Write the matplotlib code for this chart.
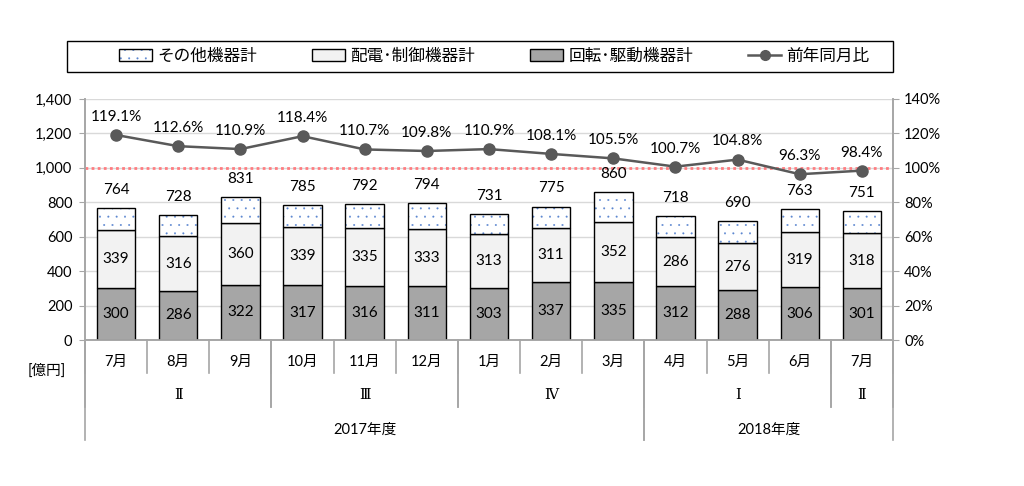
import matplotlib
matplotlib.use("Agg")
import matplotlib.pyplot as plt
import matplotlib.transforms as mtransforms
from matplotlib.patches import Patch, Rectangle
from matplotlib.lines import Line2D
from matplotlib.legend_handler import HandlerTuple
from matplotlib.ticker import FuncFormatter, MultipleLocator

plt.rcParams['font.family'] = ['Lato', 'Noto Sans CJK JP', 'DejaVu Sans']
plt.rcParams['hatch.linewidth'] = 0.2

months = ['7月', '8月', '9月', '10月', '11月', '12月', '1月', '2月', '3月', '4月', '5月', '6月', '7月']
rotating = [300, 286, 322, 317, 316, 311, 303, 337, 335, 312, 288, 306, 301]
distribution = [339, 316, 360, 339, 335, 333, 313, 311, 352, 286, 276, 319, 318]
totals = [764, 728, 831, 785, 792, 794, 731, 775, 860, 718, 690, 763, 751]
yoy = [119.1, 112.6, 110.9, 118.4, 110.7, 109.8, 110.9, 108.1, 105.5, 100.7, 104.8, 96.3, 98.4]
quarters = [('Ⅱ', 0, 3), ('Ⅲ', 3, 6), ('Ⅳ', 6, 9), ('Ⅰ', 9, 12), ('Ⅱ', 12, 13)]
years = [('2017年度', 0, 9), ('2018年度', 9, 13)]

other = [t - r - d for t, r, d in zip(totals, rotating, distribution)]

C_ROT = '#A6A6A6'
C_DIST = '#F2F2F2'
C_DOT = '#5B86D0'
C_LINE = '#595959'
C_GRID = '#D9D9D9'
C_AX = '#A6A6A6'
FS = 11

fig = plt.figure(figsize=(10.24, 4.86), dpi=100)
ax = fig.add_axes([85/1024, 1-340/486, 808/1024, 241/486])
ax2 = ax.twinx()

x = list(range(len(months)))
w = 0.62
bot2 = [r + d for r, d in zip(rotating, distribution)]

ax.bar(x, rotating, w, color=C_ROT, edgecolor='black', linewidth=1, zorder=3)
ax.bar(x, distribution, w, bottom=rotating, color=C_DIST, edgecolor='black', linewidth=1, zorder=3)
ax.bar(x, other, w, bottom=bot2, color='white', edgecolor=C_DOT, linewidth=0, hatch='..', zorder=3)
ax.bar(x, other, w, bottom=bot2, fill=False, edgecolor='black', linewidth=1, zorder=4)

for i in x:
    ax.text(i, rotating[i]/2, str(rotating[i]), ha='center', va='center', fontsize=FS, zorder=5)
    ax.text(i, rotating[i] + distribution[i]/2, str(distribution[i]), ha='center', va='center', fontsize=FS, zorder=5)
    ax.annotate(str(totals[i]), (i, totals[i]), xytext=(0, 8), textcoords='offset points',
                ha='center', va='bottom', fontsize=FS)

ax.set_xlim(-0.5, len(months) - 0.5)
ax.set_ylim(0, 1400)
ax.yaxis.set_major_locator(MultipleLocator(200))
ax.yaxis.set_major_formatter(FuncFormatter(lambda v, p: f'{int(v):,}'))
ax.grid(axis='y', color=C_GRID, linewidth=1, zorder=0)
ax.set_axisbelow(True)
ax.axhline(1000, color='#FF7C80', linestyle=(0, (1, 1.2)), linewidth=2, zorder=2)
ax.set_xticks([])

for sp in ['top']:
    ax.spines[sp].set_visible(False)
    ax2.spines[sp].set_visible(False)
for a in (ax, ax2):
    for sp in ['left', 'right', 'bottom']:
        a.spines[sp].set_color(C_AX)
        a.spines[sp].set_linewidth(1.2)
ax.tick_params(axis='y', length=4, color=C_AX, labelsize=10.5, pad=5)

ax2.set_ylim(0, 1.4)
ax2.yaxis.set_major_locator(MultipleLocator(0.2))
ax2.yaxis.set_major_formatter(FuncFormatter(lambda v, p: f'{v*100:.0f}%'))
ax2.tick_params(axis='y', length=4, color=C_AX, labelsize=10.5, pad=4)
ax2.plot(x, [v/100 for v in yoy], color=C_LINE, linewidth=1.8, marker='o', markersize=8, zorder=6)
for i in x:
    ax2.annotate(f'{yoy[i]:.1f}%', (i, yoy[i]/100), xytext=(0, 8), textcoords='offset points',
                 ha='center', va='bottom', fontsize=FS)

# category axis
trans = mtransforms.blended_transform_factory(ax.transData, ax.transAxes)
y_month = -(373-340)/241
y_q = -(407-340)/241
y_y = -(440-340)/241
for k in range(len(months) + 1):
    ax.plot([k - 0.5, k - 0.5], [0, y_month], transform=trans, color=C_AX, lw=1.2, clip_on=False)
for _, s, e in quarters:
    for b in (s, e):
        ax.plot([b - 0.5, b - 0.5], [0, y_q], transform=trans, color=C_AX, lw=1.2, clip_on=False)
for _, s, e in years:
    for b in (s, e):
        ax.plot([b - 0.5, b - 0.5], [0, y_y], transform=trans, color=C_AX, lw=1.2, clip_on=False)
for i, m in enumerate(months):
    ax.text(i, -(362-340)/241, m, transform=trans, ha='center', va='center', fontsize=10.5)
for lab, s, e in quarters:
    ax.text((s + e - 1)/2, -(395-340)/241, lab, transform=trans, ha='center', va='center',
            fontsize=10.5, family=['DejaVu Serif', 'Noto Sans CJK JP'])
for lab, s, e in years:
    ax.text((s + e - 1)/2, -(430-340)/241, lab, transform=trans, ha='center', va='center', fontsize=10.5)
fig.text(47/1024, 1-371/486, '[億円]', ha='center', va='center', fontsize=10.5)

# legend
fig.patches.append(Rectangle((67/1024, 1-72/486), (893-67)/1024, 31/486, transform=fig.transFigure,
                             fill=False, edgecolor='black', linewidth=1))
h_other = (Patch(facecolor='white', edgecolor=C_DOT, linewidth=0, hatch='..'),
           Patch(fill=False, edgecolor='black', linewidth=1))
h_dist = Patch(facecolor=C_DIST, edgecolor='black', linewidth=1)
h_rot = Patch(facecolor=C_ROT, edgecolor='black', linewidth=1)
h_line = Line2D([], [], color=C_LINE, linewidth=1.8, marker='o', markersize=7)
fig.legend([h_other, h_dist, h_rot, h_line], ['その他機器計', '配電･制御機器計', '回転･駆動機器計', '前年同月比'],
           handler_map={tuple: HandlerTuple(ndivide=1)}, loc='center',
           bbox_to_anchor=(494/1024, 1-56/486), ncol=4, frameon=False, fontsize=12,
           columnspacing=3.3, handlelength=2.0, handletextpad=0.3)

fig.savefig('out.png', dpi=100)
